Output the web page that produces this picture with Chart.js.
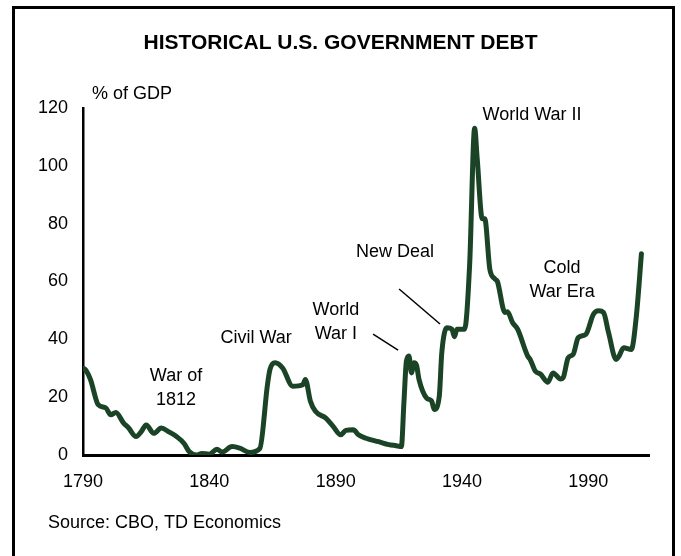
<!DOCTYPE html>
<html>
<head>
<meta charset="utf-8">
<script src="https://cdn.jsdelivr.net/npm/chart.js@4"></script>
<style>
  html, body { margin: 0; padding: 0; background: #fff; overflow: hidden; }
  #wrap { position: absolute; left: 0; top: 0; width: 681px; height: 556px; }
  #frame { position: absolute; left: 12px; top: 6px; width: 663px; height: 600px;
           border: 3px solid #000; box-sizing: border-box; pointer-events: none; }
</style>
</head>
<body>
<div id="wrap"><canvas id="graficaDeuda" width="681" height="556"></canvas></div>
<div id="frame"></div>
<script>
// Años y deuda del gobierno (% del PIB)
const anios = [1790, 1791, 1793, 1796, 1799, 1801, 1803, 1806, 1808, 1811, 1813, 1815, 1818, 1821, 1824, 1827,
  1830, 1832, 1835, 1837, 1840, 1843, 1845, 1849, 1852, 1856, 1860, 1863, 1864, 1866, 1869, 1873, 1877, 1878,
  1880, 1882, 1886, 1889, 1892, 1894, 1897, 1899, 1902, 1907, 1911, 1914, 1916, 1917, 1918, 1919, 1920, 1921,
  1922, 1923, 1926, 1928, 1929, 1931, 1932, 1934, 1936, 1937, 1938, 1941, 1943, 1945, 1946, 1948, 1949, 1951,
  1953, 1954, 1957, 1958, 1960, 1962, 1966, 1967, 1969, 1971, 1974, 1976, 1979, 1980, 1982, 1984, 1986, 1989,
  1992, 1994, 1996, 1998, 2001, 2002, 2004, 2007, 2009, 2011];
const deuda = [30, 29.5, 26, 17.4, 16.3, 13.9, 14.7, 11.1, 9.4, 6.4, 8, 10.4, 7.5, 9.3, 8, 6.4,
  4, 1.2, 0, 0.5, 0.3, 2, 1, 2.9, 2.4, 0.9, 2.3, 24.3, 29.6, 31.9, 30.1, 23.8, 24.3, 26.1,
  18.6, 15.1, 12.8, 9.9, 7, 8.5, 8.7, 7, 5.8, 4.6, 3.6, 3.2, 2.9, 18, 32.5, 34.2, 28.4, 31.9,
  31, 26.1, 19.7, 18.6, 15.7, 20.3, 35.4, 44, 43.5, 40.9, 43.5, 43.5, 65.5, 113, 102.6, 81.7, 81.7, 64.3,
  60.9, 60, 49.3, 49.5, 45.8, 43.5, 34.2, 33, 29, 28, 25.2, 28.4, 26.3, 26.7, 33.6, 34.8, 40.6, 41.7,
  48.7, 49.9, 49.3, 42.3, 33, 34, 37.1, 36.5, 48.1, 69.6];

// Marcas del eje
const ticksX = [1790, 1840, 1890, 1940, 1990];
const ticksY = [0, 20, 40, 60, 80, 100, 120];

// Rótulos de los episodios (centro en coordenadas de datos)
const rotulos = [
  { texto: ['War of', '1812'], x: 1826.8, y: 23.2 },
  { texto: ['Civil War'], x: 1858.5, y: 40.5 },
  { texto: ['World', 'War I'], x: 1890.1, y: 46 },
  { texto: ['New Deal'], x: 1913.5, y: 70.2 },
  { texto: ['World War II'], x: 1967.7, y: 117.6 },
  { texto: ['Cold', 'War Era'], x: 1979.6, y: 60.5 }
];
// Líneas que señalan la curva
const flechas = [
  { x1: 1904.8, y1: 41.8, x2: 1914.7, y2: 36.3 },
  { x1: 1915.1, y1: 57.4, x2: 1931.3, y2: 45.3 }
];

const titulo = 'HISTORICAL U.S. GOVERNMENT DEBT';
const fuente = 'Liberation Sans, Arial, sans-serif';

// Plugin para título, rótulos, unidad y fuente
const rotulosPlugin = {
  id: 'rotulos',
  afterDraw(chart) {
    const ctx = chart.ctx;
    const sx = chart.scales.x, sy = chart.scales.y;
    ctx.save();
    ctx.fillStyle = '#000';
    ctx.textBaseline = 'middle';
    // título
    ctx.font = 'bold 21px ' + fuente;
    ctx.textAlign = 'center';
    ctx.fillText(titulo, chart.width / 2, 43);

    ctx.font = '18px ' + fuente;
    rotulos.forEach(r => {
      const cx = sx.getPixelForValue(r.x);
      const cy = sy.getPixelForValue(r.y);
      const alto = 24;
      r.texto.forEach((t, i) => {
        ctx.fillText(t, cx, cy + (i - (r.texto.length - 1) / 2) * alto);
      });
    });
    ctx.strokeStyle = '#000';
    ctx.lineWidth = 1.5;
    flechas.forEach(f => {
      ctx.beginPath();
      ctx.moveTo(sx.getPixelForValue(f.x1), sy.getPixelForValue(f.y1));
      ctx.lineTo(sx.getPixelForValue(f.x2), sy.getPixelForValue(f.y2));
      ctx.stroke();
    });
    // unidad del eje Y
    ctx.textAlign = 'left';
    ctx.fillText('% of GDP', chart.chartArea.left + 9, chart.chartArea.top - 14);
    // fuente
    ctx.fillText('Source: CBO, TD Economics', 48, 523);
    ctx.restore();
  }
};

const ctx = document.getElementById('graficaDeuda').getContext('2d');
new Chart(ctx, {
  type: 'line',
  data: {
    datasets: [{
      label: 'Deuda (% del PIB)',
      data: anios.map((a, i) => ({ x: a, y: deuda[i] })),
      borderColor: '#1b4427',
      borderWidth: 5,
      borderJoinStyle: 'round',
      borderCapStyle: 'round',
      cubicInterpolationMode: 'monotone',
      pointRadius: 0,
      fill: false
    }]
  },
  options: {
    responsive: false,
    animation: false,
    layout: { padding: { top: 108, left: 0, right: 32, bottom: 0 } },
    plugins: {
      legend: { display: false },
      tooltip: { enabled: false },
      title: { display: false }
    },
    scales: {
      x: {
        type: 'linear',
        min: 1790,
        max: 2014,
        grid: { display: false, drawTicks: false },
        border: { display: true, color: '#000', width: 3 },
        ticks: {
          color: '#000', font: { family: fuente, size: 18 }, padding: 16, maxRotation: 0,
          callback: v => String(v)
        },
        afterBuildTicks: s => { s.ticks = ticksX.map(v => ({ value: v })); },
        afterFit: s => { s.height = 101; }
      },
      y: {
        min: 0,
        max: 120,
        grid: { display: false, drawTicks: false },
        border: { display: true, color: '#000', width: 2.5 },
        ticks: { color: '#000', font: { family: fuente, size: 18 }, padding: 15 },
        afterBuildTicks: s => { s.ticks = ticksY.map(v => ({ value: v })); },
        afterFit: s => { s.width = 83; }
      }
    }
  },
  plugins: [rotulosPlugin]
});
</script>
</body>
</html>
